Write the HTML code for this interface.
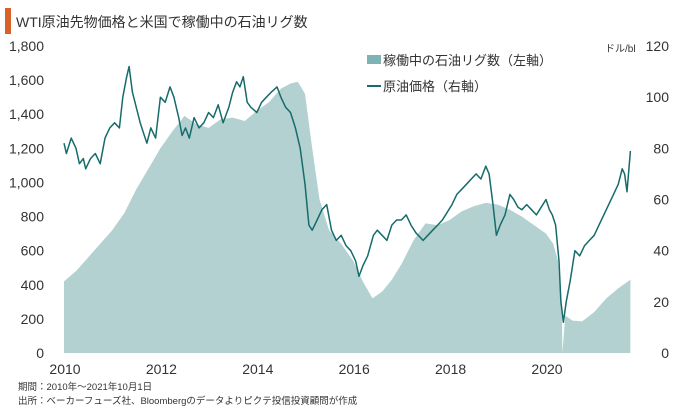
<!DOCTYPE html>
<html><head><meta charset="utf-8"><style>
body{margin:0;background:#fff;font-family:"Liberation Sans","Noto Sans CJK JP",sans-serif;}
svg text{font-family:"Liberation Sans","Noto Sans CJK JP",sans-serif;fill:#333;}
</style></head><body>
<svg id="chart" width="680" height="410" viewBox="0 0 680 410">
<rect x="5" y="8" width="6" height="26" fill="#d9622b"/>
<text x="16" y="27" font-size="14" fill="#222">WTI原油先物価格と米国で稼働中の石油リグ数</text>
<g id="plot"></g>
<g id="yl"></g>
<g id="yr"></g>
<g id="xa"></g>
<text x="605" y="52" font-size="10">ドル/bl</text>
<rect x="367" y="55" width="14" height="9" fill="#7fb2b2"/>
<text x="383" y="65" font-size="13">稼働中の石油リグ数（左軸）</text>
<line x1="367" y1="86" x2="381" y2="86" stroke="#176b6b" stroke-width="2"/>
<text x="383" y="91" font-size="13">原油価格（右軸）</text>
<text x="18" y="390" font-size="9.5">期間：2010年～2021年10月1日</text>
<text x="18" y="404" font-size="9.5">出所：ベーカーフューズ社、Bloombergのデータよりピクテ投信投資顧問が作成</text>
</svg>
<script>
var rigT=[2010,2010.25,2010.5,2010.75,2011,2011.25,2011.5,2011.75,2012,2012.25,2012.5,2012.75,2013,2013.25,2013.5,2013.75,2014,2014.25,2014.5,2014.7,2014.85,2015,2015.15,2015.3,2015.5,2015.75,2016,2016.2,2016.4,2016.6,2016.8,2017,2017.25,2017.5,2017.75,2018,2018.25,2018.5,2018.75,2019,2019.25,2019.5,2019.75,2020,2020.15,2020.25,2020.33,2020.34,2020.4,2020.55,2020.75,2021,2021.25,2021.5,2021.75];
var rigV=[420,480,560,640,720,820,960,1080,1200,1300,1390,1340,1320,1370,1380,1360,1420,1470,1550,1580,1590,1520,1200,900,720,640,540,420,320,360,430,520,660,760,750,780,830,860,880,870,840,800,750,700,640,540,250,0,220,190,185,240,320,380,430];
var oilT=[2010,2010.05,2010.15,2010.25,2010.32,2010.4,2010.45,2010.55,2010.65,2010.75,2010.85,2010.95,2011.05,2011.15,2011.22,2011.3,2011.35,2011.42,2011.5,2011.58,2011.65,2011.72,2011.8,2011.9,2012,2012.1,2012.2,2012.28,2012.38,2012.45,2012.52,2012.6,2012.7,2012.8,2012.9,2013,2013.1,2013.2,2013.3,2013.42,2013.5,2013.58,2013.65,2013.72,2013.8,2013.88,2014,2014.1,2014.2,2014.3,2014.42,2014.5,2014.6,2014.7,2014.8,2014.9,2015,2015.08,2015.15,2015.25,2015.35,2015.45,2015.55,2015.65,2015.75,2015.85,2015.95,2016.05,2016.12,2016.2,2016.3,2016.42,2016.5,2016.6,2016.7,2016.8,2016.9,2017,2017.1,2017.2,2017.3,2017.45,2017.55,2017.65,2017.75,2017.85,2017.95,2018.05,2018.15,2018.25,2018.35,2018.45,2018.55,2018.65,2018.75,2018.82,2018.9,2018.97,2019.05,2019.15,2019.25,2019.33,2019.42,2019.5,2019.6,2019.7,2019.8,2019.9,2020,2020.07,2020.13,2020.2,2020.27,2020.31,2020.36,2020.42,2020.5,2020.6,2020.7,2020.8,2020.9,2021,2021.1,2021.2,2021.3,2021.4,2021.5,2021.58,2021.63,2021.68,2021.75];
var oilV=[82,78,84,80,74,76,72,76,78,74,84,88,90,88,100,108,112,102,96,90,86,82,88,84,100,98,104,100,92,85,88,84,92,88,90,94,92,97,90,96,102,106,104,108,98,96,94,98,100,102,104,100,96,94,88,80,66,50,48,52,56,58,48,44,46,42,40,36,30,34,38,46,48,46,44,50,52,52,54,50,47,44,46,48,50,52,55,58,62,64,66,68,70,68,73,70,58,46,50,54,62,60,57,56,58,56,54,57,60,56,54,50,36,20,12,20,28,40,38,42,44,46,50,54,58,62,66,72,70,63,79];
var xT=[2010,2012,2014,2016,2018,2020];
var yL=[0,200,400,600,800,1000,1200,1400,1600,1800];
var yR=[0,20,40,60,80,100,120];
function xS(t){return 64+(t-2010)*48.2;}
function yLS(v){return 353-v*0.17056;}
function yRS(v){return 353-v*2.5583;}
var SVGNS="http://www.w3.org/2000/svg";
function mkEl(tag,parent){var e=document.createElementNS(SVGNS,tag);parent.appendChild(e);return e;}
var plotG=document.getElementById('plot');
var areaD='M'+xS(rigT[0])+','+yLS(0);
for(var i=0;i<rigT.length;i++){areaD+=' L'+xS(rigT[i]).toFixed(1)+','+yLS(rigV[i]).toFixed(1);}
areaD+=' L'+xS(rigT[rigT.length-1])+','+yLS(0)+' Z';
var areaEl=mkEl('path',plotG);
areaEl.setAttribute('d',areaD);
areaEl.setAttribute('fill','#b3d1d1');


var lineD='';
for(var j=0;j<oilT.length&&j<oilV.length;j++){lineD+=(j?' L':'M')+xS(oilT[j]).toFixed(1)+','+yRS(oilV[j]).toFixed(1);}
var lineEl=mkEl('path',plotG);
lineEl.setAttribute('d',lineD);
lineEl.setAttribute('fill','none');
lineEl.setAttribute('stroke','#176b6b');
lineEl.setAttribute('stroke-width','1.5');
lineEl.setAttribute('stroke-linejoin','round');


function addLabel(parent,x,y,anchor,txt){var t=mkEl('text',parent);t.setAttribute('x',x);t.setAttribute('y',y);t.setAttribute('font-size','14');t.setAttribute('text-anchor',anchor);t.textContent=txt;return t;}
var glEl=document.getElementById('yl');
for(var a=0;a<yL.length;a++){var s=String(yL[a]).replace(/\B(?=(\d{3})+(?!\d))/g,',');
var t1=addLabel(glEl,44,yLS(yL[a])+5,'end',s);

}
var grEl=document.getElementById('yr');
for(var b=0;b<yR.length;b++){var t2=addLabel(grEl,669,yRS(yR[b])+5,'end',String(yR[b]));

}
var gxEl=document.getElementById('xa');
for(var c=0;c<xT.length;c++){var t3=addLabel(gxEl,xS(xT[c])+1,374,'middle',String(xT[c]));

}
</script>
</body></html>
